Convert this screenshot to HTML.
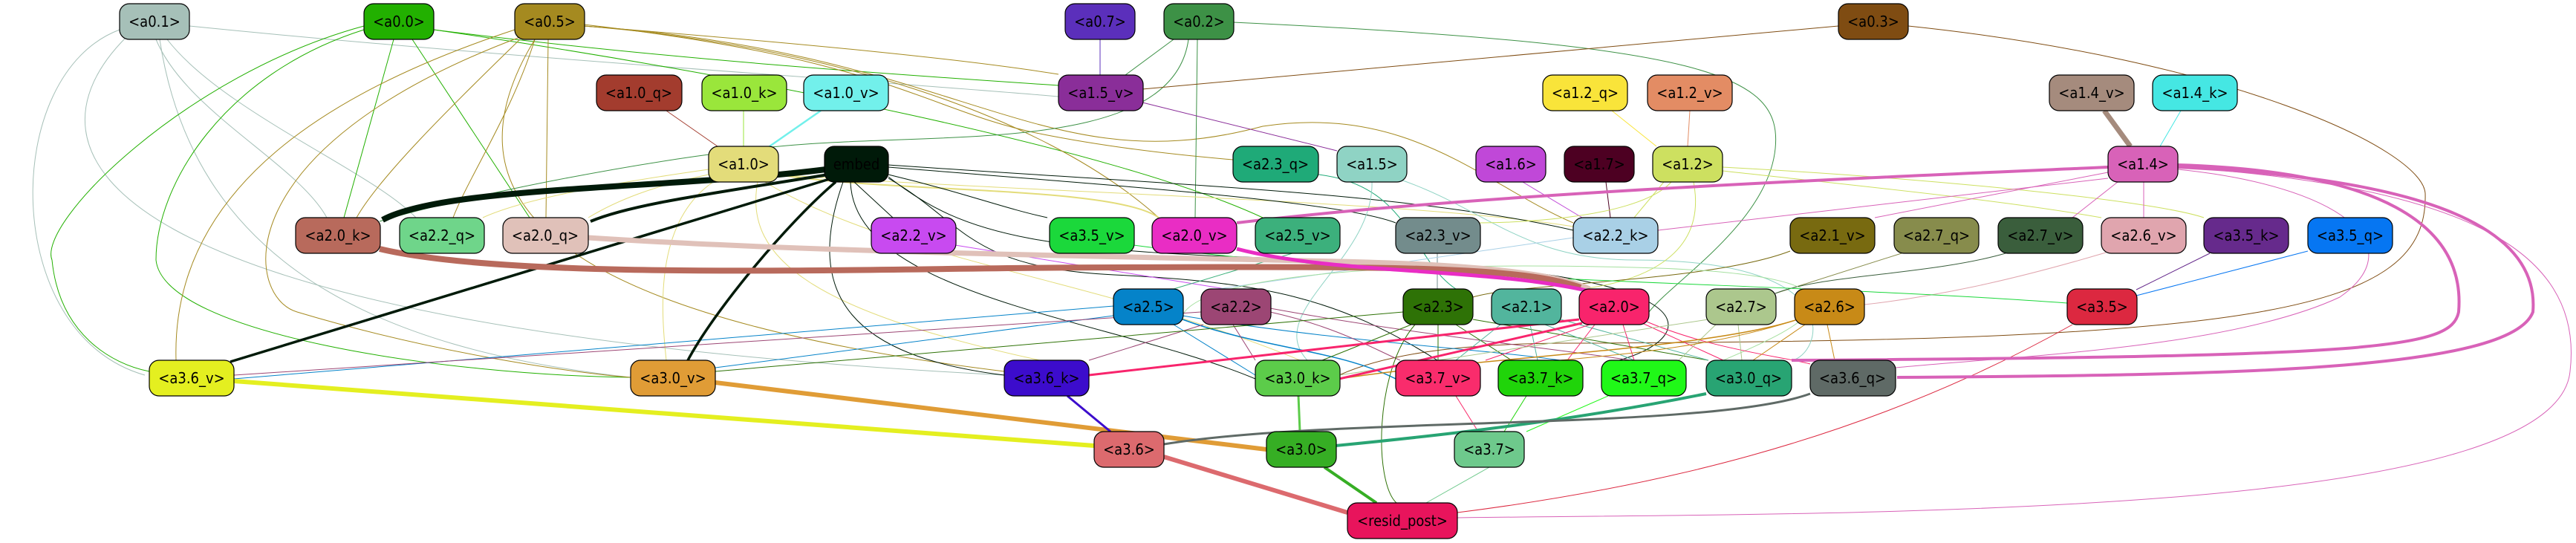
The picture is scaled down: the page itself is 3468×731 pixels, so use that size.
<!DOCTYPE html>
<html><head><meta charset="utf-8"><style>
html,body{margin:0;padding:0;background:#fff;}
svg{display:block;}
text{font-family:"DejaVu Sans Condensed","DejaVu Sans","Liberation Sans",sans-serif;font-stretch:condensed;font-size:20px;text-anchor:middle;dominant-baseline:central;fill:#000;}
.n{stroke:#000;stroke-width:1.2;}
path{fill:none;}
</style></head><body>
<svg width="3468" height="731" viewBox="0 0 3468 731" xmlns="http://www.w3.org/2000/svg">
<defs>
<marker id="mk" viewBox="0 0 10 10" refX="9" refY="5" markerUnits="userSpaceOnUse" markerWidth="22" markerHeight="22" orient="auto"><path d="M0,0 L10,5 L0,10 z" fill="#001a09"/></marker>
<marker id="mb" viewBox="0 0 10 10" refX="9" refY="5" markerUnits="userSpaceOnUse" markerWidth="28" markerHeight="28" orient="auto"><path d="M0,0 L10,5 L0,10 z" fill="#b86a5c"/></marker>
<marker id="mp" viewBox="0 0 10 10" refX="9" refY="5" markerUnits="userSpaceOnUse" markerWidth="20" markerHeight="20" orient="auto"><path d="M0,0 L10,5 L0,10 z" fill="#d862b8"/></marker>
<marker id="my" viewBox="0 0 10 10" refX="9" refY="5" markerUnits="userSpaceOnUse" markerWidth="26" markerHeight="26" orient="auto"><path d="M0,0 L10,5 L0,10 z" fill="#e4ef20"/></marker>
<marker id="mo" viewBox="0 0 10 10" refX="9" refY="5" markerUnits="userSpaceOnUse" markerWidth="26" markerHeight="26" orient="auto"><path d="M0,0 L10,5 L0,10 z" fill="#e09c36"/></marker>
<marker id="mr" viewBox="0 0 10 10" refX="9" refY="5" markerUnits="userSpaceOnUse" markerWidth="24" markerHeight="24" orient="auto"><path d="M0,0 L10,5 L0,10 z" fill="#dc6a6e"/></marker>
<marker id="mg" viewBox="0 0 10 10" refX="9" refY="5" markerUnits="userSpaceOnUse" markerWidth="20" markerHeight="20" orient="auto"><path d="M0,0 L10,5 L0,10 z" fill="#36ae24"/></marker>
<marker id="mt" viewBox="0 0 10 10" refX="9" refY="5" markerUnits="userSpaceOnUse" markerWidth="20" markerHeight="20" orient="auto"><path d="M0,0 L10,5 L0,10 z" fill="#28a473"/></marker>
<marker id="mf" viewBox="0 0 10 10" refX="9" refY="5" markerUnits="userSpaceOnUse" markerWidth="18" markerHeight="18" orient="auto"><path d="M0,0 L10,5 L0,10 z" fill="#f8246c"/></marker>
<marker id="mw" viewBox="0 0 10 10" refX="9" refY="5" markerUnits="userSpaceOnUse" markerWidth="26" markerHeight="26" orient="auto"><path d="M0,0 L10,5 L0,10 z" fill="#a58b7d"/></marker>
</defs>
<g stroke-width="1">
<path d="M210,53 C250,150 400,220 440,293" stroke="#a6c0b8"/>
<path d="M225,53 C300,150 500,230 560,293" stroke="#a6c0b8"/>
<path d="M161,40 C0,100 0,450 195,505" stroke="#a6c0b8"/>
<path d="M170,50 C20,200 100,440 1352,505" stroke="#a6c0b8"/>
<path d="M215,53 C260,350 500,470 849,508" stroke="#a6c0b8"/>
<path d="M255,35 C700,80 1200,110 1425,130" stroke="#a6c0b8"/>
<path d="M530,53 L463,293" stroke="#22b000"/>
<path d="M555,53 L713,293" stroke="#22b000"/>
<path d="M584,40 C900,80 1200,100 1425,115" stroke="#22b000"/>
<path d="M490,35 C250,100 50,300 70,350 C80,450 150,490 201,500" stroke="#22b000"/>
<path d="M490,40 C300,100 210,250 210,350 C220,450 600,505 849,508" stroke="#22b000"/>
<path d="M584,40 C1000,100 1500,200 1700,293" stroke="#22b000"/>
<path d="M700,53 C600,150 510,240 480,293" stroke="#a58a20"/>
<path d="M720,53 C690,150 630,240 610,293" stroke="#a58a20"/>
<path d="M738,53 L735,293" stroke="#a58a20"/>
<path d="M693,40 C450,120 230,250 237,485" stroke="#a58a20"/>
<path d="M700,50 C300,200 330,400 400,420 C600,480 800,505 849,508" stroke="#a58a20"/>
<path d="M786,35 C1100,60 1300,80 1425,100" stroke="#a58a20"/>
<path d="M786,33 C1200,80 1250,150 1400,180 C1500,200 1600,210 1660,215" stroke="#a58a20"/>
<path d="M786,35 C1100,60 1400,150 1560,293" stroke="#a58a20"/>
<path d="M786,35 C1300,70 1400,250 1700,170 C1900,140 2000,250 2118,300" stroke="#a58a20"/>
<path d="M720,53 C600,250 700,420 1352,500" stroke="#a58a20"/>
<path d="M1481,53 L1481,101" stroke="#5b2fbb"/>
<path d="M1580,53 L1515,101" stroke="#3d9146"/>
<path d="M1612,53 L1609,293" stroke="#3d9146"/>
<path d="M1600,53 C1580,200 1300,180 1100,193 C900,205 600,270 511,298" stroke="#3d9146"/>
<path d="M1660,30 C2300,60 2400,100 2390,200 C2380,300 2250,380 2220,420" stroke="#3d9146"/>
<path d="M2475,35 L1538,120" stroke="#7f4c12"/>
<path d="M2569,35 C3000,80 3260,200 3265,260 C3270,420 3050,460 2100,462 C2000,463 1880,470 1803,505" stroke="#7f4c12"/>
<path d="M897,149 L966,197" stroke="#a33c2e"/>
<path d="M1001,149 L1001,197" stroke="#9ae63b"/>
<path d="M1105,149 L1036,197" stroke="#72f0eb" stroke-width="2.5"/>
<path d="M954,228 C800,250 700,270 650,293" stroke="#e3dc7a"/>
<path d="M954,235 C880,250 830,270 792,293" stroke="#e3dc7a"/>
<path d="M960,245 C880,300 890,420 897,485" stroke="#e3dc7a"/>
<path d="M1020,245 C1000,350 1100,420 1400,485" stroke="#e3dc7a"/>
<path d="M1047,235 C1200,260 1500,250 1560,293" stroke="#e3dc7a" stroke-width="2"/>
<path d="M1047,235 C1400,260 1900,270 2118,305" stroke="#e3dc7a"/>
<path d="M1030,245 C1200,350 1500,380 1750,485" stroke="#e3dc7a"/>
<path d="M1150,245 L1202,293" stroke="#001a09"/>
<path d="M1196,235 C1300,260 1350,280 1410,293" stroke="#001a09"/>
<path d="M1196,225 C1500,250 1800,270 1879,300" stroke="#001a09"/>
<path d="M1196,222 C1600,250 1900,260 2118,310" stroke="#001a09"/>
<path d="M1135,245 C1080,400 1150,480 1352,505" stroke="#001a09"/>
<path d="M1145,245 C1150,400 1500,430 1690,510" stroke="#001a09"/>
<path d="M1196,240 C1300,300 1300,360 1500,370 C1700,380 1800,400 1935,485" stroke="#001a09"/>
<path d="M1196,238 C1300,320 1400,340 1800,350 C2300,360 2300,450 2180,485" stroke="#001a09"/>
<path d="M1538,138 L1800,203" stroke="#8a2e99"/>
<path d="M1775,235 C1900,250 1900,350 1960,389" stroke="#1faa78"/>
<path d="M1847,245 C1850,350 1700,420 1760,485" stroke="#8fd3c4"/>
<path d="M1880,240 C2000,280 2050,350 2200,350 C2500,350 2450,480 2412,485" stroke="#8fd3c4"/>
<path d="M2170,149 L2230,197" stroke="#f9e43a"/>
<path d="M2275,149 L2272,197" stroke="#e38c64"/>
<path d="M2050,245 L2130,293" stroke="#c048d8"/>
<path d="M2162,245 L2168,293" stroke="#4d0022"/>
<path d="M2240,245 L2200,293" stroke="#cde060"/>
<path d="M2319,225 C2600,240 2900,270 2967,293" stroke="#cde060"/>
<path d="M2319,230 C2500,250 2700,270 2829,293" stroke="#cde060"/>
<path d="M2250,245 C2200,300 2000,300 1992,300" stroke="#cde060"/>
<path d="M2280,245 C2300,350 2200,380 2130,389" stroke="#cde060"/>
<path d="M2936,149 L2908,197" stroke="#45e7e3"/>
<path d="M2838,240 L2232,310" stroke="#d862b8"/>
<path d="M2838,232 L2524,293" stroke="#d862b8"/>
<path d="M2851,245 L2790,293" stroke="#d862b8"/>
<path d="M2886,245 L2886,293" stroke="#d862b8"/>
<path d="M2932,225 C3300,250 3480,330 3460,500 C3440,700 2500,690 1962,697" stroke="#d862b8"/>
<path d="M2932,228 C3150,250 3250,330 3150,400 C3000,470 2700,480 2552,495" stroke="#d862b8"/>
<path d="M2410,338 C2300,380 2050,380 1983,400" stroke="#786a10"/>
<path d="M2560,341 L2390,395" stroke="#878c4c"/>
<path d="M2700,341 C2600,370 2450,370 2390,395" stroke="#3a5e3c"/>
<path d="M2835,340 C2700,380 2600,400 2510,410" stroke="#e0a5ae"/>
<path d="M2975,341 L2876,390" stroke="#662a8c"/>
<path d="M3107,338 L2876,398" stroke="#0676f2"/>
<path d="M1526,330 C1900,380 2400,380 2783,408" stroke="#1bd83b"/>
<path d="M2790,437 C2500,600 2200,660 1962,690" stroke="#dc2840"/>
<path d="M1935,341 L1935,389" stroke="#738c8c"/>
<path d="M1286,330 L1650,389" stroke="#c84af0"/>
<path d="M1740,341 L1580,389" stroke="#3cb07c"/>
<path d="M2118,320 L1640,389" stroke="#a9d0e6"/>
<path d="M1590,430 C1600,380 1800,350 2200,360 C2600,370 2400,450 2320,485" stroke="#a6e0a0"/>
<path d="M1499,412 L315,510" stroke="#0583c9"/>
<path d="M1499,425 L963,495" stroke="#0583c9"/>
<path d="M1580,437 L1690,505" stroke="#0583c9"/>
<path d="M1592,430 C1700,470 1800,470 1879,510" stroke="#0583c9" stroke-width="1.5"/>
<path d="M1592,425 C1800,460 2000,470 2100,485" stroke="#0583c9"/>
<path d="M1617,420 L315,505" stroke="#9c4674"/>
<path d="M1620,437 L1466,485" stroke="#9c4674"/>
<path d="M1660,437 L1690,485" stroke="#9c4674"/>
<path d="M1710,420 C1800,440 1850,470 1885,485" stroke="#9c4674"/>
<path d="M1710,415 C1900,450 2100,470 2195,485" stroke="#9c4674"/>
<path d="M1889,420 L963,500" stroke="#2e7206"/>
<path d="M1900,437 L1780,485" stroke="#2e7206"/>
<path d="M1936,437 L1936,485" stroke="#2e7206"/>
<path d="M1960,437 L2035,485" stroke="#2e7206"/>
<path d="M1983,430 L2300,485" stroke="#2e7206"/>
<path d="M1905,437 C1850,500 1850,650 1880,677" stroke="#2e7206"/>
<path d="M2020,437 L1960,485" stroke="#52b59d"/>
<path d="M2060,437 L2070,485" stroke="#52b59d"/>
<path d="M2080,437 L2200,485" stroke="#52b59d"/>
<path d="M2101,430 L2300,485" stroke="#52b59d"/>
<path d="M2147,437 L2110,485" stroke="#f8246c"/>
<path d="M2185,437 L2200,485" stroke="#f8246c"/>
<path d="M2200,430 L2320,485" stroke="#f8246c"/>
<path d="M2140,437 L2000,485" stroke="#f8246c"/>
<path d="M2210,430 C2300,470 2400,480 2437,490" stroke="#f8246c"/>
<path d="M2300,430 L1803,505" stroke="#acc78d"/>
<path d="M2340,437 L2345,485" stroke="#acc78d"/>
<path d="M2310,437 L2260,485" stroke="#acc78d"/>
<path d="M2420,430 C2300,470 2000,480 1803,510" stroke="#c88a17" stroke-width="1.5"/>
<path d="M2420,430 C2300,470 2150,480 2100,485" stroke="#c88a17"/>
<path d="M2430,437 L2360,485" stroke="#c88a17"/>
<path d="M2460,437 L2470,485" stroke="#c88a17"/>
<path d="M1960,533 L1990,581" stroke="#f92c6c"/>
<path d="M2055,533 L2025,581" stroke="#20d40a"/>
<path d="M2165,533 L2055,581" stroke="#20f818"/>
<path d="M2005,629 L1920,677" stroke="#6ec98c"/>
</g>
<path d="M1112,228 C900,255 600,250 515,296" stroke="#001a09" stroke-width="8" marker-end="url(#mk)"/>
<path d="M1115,235 C950,262 850,275 795,298" stroke="#001a09" stroke-width="4" marker-end="url(#mk)"/>
<path d="M1120,240 L310,487" stroke="#001a09" stroke-width="3.5" marker-end="url(#mk)"/>
<path d="M1125,245 C1060,300 960,420 925,487" stroke="#001a09" stroke-width="3.5" marker-end="url(#mk)"/>
<path d="M792,320 C1100,340 1500,345 1800,352 C2000,356 2100,370 2140,389" stroke="#e0c1b9" stroke-width="7"/>
<path d="M511,335 C700,380 1200,360 1500,360 C1900,358 2050,360 2128,387" stroke="#b86a5c" stroke-width="8" marker-end="url(#mb)"/>
<path d="M1665,335 C1800,370 2000,360 2140,392" stroke="#e92dc4" stroke-width="5"/>
<path d="M2838,225 C2500,240 2000,260 1665,300" stroke="#d862b8" stroke-width="4" marker-end="url(#mp)"/>
<path d="M2932,222 C3200,230 3320,300 3310,420 C3300,470 3200,480 2412,485" stroke="#d862b8" stroke-width="4" marker-end="url(#mp)"/>
<path d="M2932,225 C3250,240 3420,300 3410,420 C3380,500 3000,505 2554,508" stroke="#d862b8" stroke-width="4" marker-end="url(#mp)"/>
<path d="M2833,149 L2868,197" stroke="#a58b7d" stroke-width="7" marker-end="url(#mw)"/>
<path d="M315,513 L1473,600" stroke="#e4ef20" stroke-width="6" marker-end="url(#my)"/>
<path d="M963,515 L1705,605" stroke="#e09c36" stroke-width="6" marker-end="url(#mo)"/>
<path d="M1437,533 L1495,581" stroke="#3c0ccc" stroke-width="3"/>
<path d="M1748,533 L1750,581" stroke="#5ccc4a" stroke-width="3"/>
<path d="M2297,530 C2100,570 1900,590 1798,600" stroke="#28a473" stroke-width="4" marker-end="url(#mt)"/>
<path d="M2437,530 C2300,580 1800,560 1567,598" stroke="#5f6a66" stroke-width="3"/>
<path d="M1567,615 L1814,690" stroke="#dc6a6e" stroke-width="6" marker-end="url(#mr)"/>
<path d="M1783,629 L1853,677" stroke="#36ae24" stroke-width="4" marker-end="url(#mg)"/>
<path d="M2126,430 L1466,505" stroke="#f8246c" stroke-width="3" marker-end="url(#mf)"/>
<path d="M2130,435 L1803,510" stroke="#f8246c" stroke-width="3" marker-end="url(#mf)"/>
<g class="n">
<rect x="161" y="5" width="94" height="48" rx="13" fill="#a6c0b8"/>
<rect x="490" y="5" width="94" height="48" rx="13" fill="#22b000"/>
<rect x="693" y="5" width="94" height="48" rx="13" fill="#a58a20"/>
<rect x="1434" y="5" width="94" height="48" rx="13" fill="#5b2fbb"/>
<rect x="1567" y="5" width="94" height="48" rx="13" fill="#3d9146"/>
<rect x="2475" y="5" width="94" height="48" rx="13" fill="#7f4c12"/>
<rect x="803" y="101" width="115" height="48" rx="13" fill="#a33c2e"/>
<rect x="945" y="101" width="114" height="48" rx="13" fill="#9ae63b"/>
<rect x="1082" y="101" width="114" height="48" rx="13" fill="#72f0eb"/>
<rect x="1425" y="101" width="114" height="48" rx="13" fill="#8a2e99"/>
<rect x="2077" y="101" width="114" height="48" rx="13" fill="#f9e43a"/>
<rect x="2218" y="101" width="114" height="48" rx="13" fill="#e38c64"/>
<rect x="2759" y="101" width="114" height="48" rx="13" fill="#a58b7d"/>
<rect x="2898" y="101" width="114" height="48" rx="13" fill="#45e7e3"/>
<rect x="954" y="197" width="94" height="48" rx="13" fill="#e3dc7a"/>
<rect x="1110" y="197" width="86" height="48" rx="13" fill="#001a09"/>
<rect x="1660" y="197" width="115" height="48" rx="13" fill="#1faa78"/>
<rect x="1800" y="197" width="94" height="48" rx="13" fill="#8fd3c4"/>
<rect x="1987" y="197" width="94" height="48" rx="13" fill="#c048d8"/>
<rect x="2106" y="197" width="94" height="48" rx="13" fill="#4d0022"/>
<rect x="2225" y="197" width="94" height="48" rx="13" fill="#cde060"/>
<rect x="2838" y="197" width="94" height="48" rx="13" fill="#d862b8"/>
<rect x="398" y="293" width="114" height="48" rx="13" fill="#b86a5c"/>
<rect x="538" y="293" width="114" height="48" rx="13" fill="#6fd58a"/>
<rect x="677" y="293" width="115" height="48" rx="13" fill="#e0c1b9"/>
<rect x="1173" y="293" width="114" height="48" rx="13" fill="#c84af0"/>
<rect x="1413" y="293" width="114" height="48" rx="13" fill="#1bd83b"/>
<rect x="1551" y="293" width="114" height="48" rx="13" fill="#e92dc4"/>
<rect x="1690" y="293" width="114" height="48" rx="13" fill="#3cb07c"/>
<rect x="1879" y="293" width="114" height="48" rx="13" fill="#738c8c"/>
<rect x="2118" y="293" width="114" height="48" rx="13" fill="#a9d0e6"/>
<rect x="2410" y="293" width="114" height="48" rx="13" fill="#786a10"/>
<rect x="2550" y="293" width="114" height="48" rx="13" fill="#878c4c"/>
<rect x="2690" y="293" width="114" height="48" rx="13" fill="#3a5e3c"/>
<rect x="2829" y="293" width="114" height="48" rx="13" fill="#e0a5ae"/>
<rect x="2967" y="293" width="114" height="48" rx="13" fill="#662a8c"/>
<rect x="3107" y="293" width="114" height="48" rx="13" fill="#0676f2"/>
<rect x="1499" y="389" width="94" height="48" rx="13" fill="#0583c9"/>
<rect x="1617" y="389" width="94" height="48" rx="13" fill="#9c4674"/>
<rect x="1889" y="389" width="94" height="48" rx="13" fill="#2e7206"/>
<rect x="2008" y="389" width="94" height="48" rx="13" fill="#52b59d"/>
<rect x="2126" y="389" width="94" height="48" rx="13" fill="#f8246c"/>
<rect x="2297" y="389" width="94" height="48" rx="13" fill="#acc78d"/>
<rect x="2416" y="389" width="94" height="48" rx="13" fill="#c88a17"/>
<rect x="2783" y="389" width="94" height="48" rx="13" fill="#dc2840"/>
<rect x="201" y="485" width="114" height="48" rx="13" fill="#e4ef20"/>
<rect x="849" y="485" width="114" height="48" rx="13" fill="#e09c36"/>
<rect x="1352" y="485" width="114" height="48" rx="13" fill="#3c0ccc"/>
<rect x="1690" y="485" width="114" height="48" rx="13" fill="#5ccc4a"/>
<rect x="1879" y="485" width="114" height="48" rx="13" fill="#f92c6c"/>
<rect x="2017" y="485" width="114" height="48" rx="13" fill="#20d40a"/>
<rect x="2156" y="485" width="114" height="48" rx="13" fill="#20f818"/>
<rect x="2297" y="485" width="115" height="48" rx="13" fill="#28a473"/>
<rect x="2437" y="485" width="115" height="48" rx="13" fill="#5f6a66"/>
<rect x="1473" y="581" width="94" height="48" rx="13" fill="#dc6a6e"/>
<rect x="1705" y="581" width="94" height="48" rx="13" fill="#36ae24"/>
<rect x="1958" y="581" width="94" height="48" rx="13" fill="#6ec98c"/>
<rect x="1814" y="677" width="148" height="48" rx="13" fill="#e8145c"/>
</g>
<g>
<text x="208" y="29">&lt;a0.1&gt;</text>
<text x="537" y="29">&lt;a0.0&gt;</text>
<text x="740" y="29">&lt;a0.5&gt;</text>
<text x="1481" y="29">&lt;a0.7&gt;</text>
<text x="1614" y="29">&lt;a0.2&gt;</text>
<text x="2522" y="29">&lt;a0.3&gt;</text>
<text x="860" y="125">&lt;a1.0_q&gt;</text>
<text x="1002" y="125">&lt;a1.0_k&gt;</text>
<text x="1139" y="125">&lt;a1.0_v&gt;</text>
<text x="1482" y="125">&lt;a1.5_v&gt;</text>
<text x="2134" y="125">&lt;a1.2_q&gt;</text>
<text x="2275" y="125">&lt;a1.2_v&gt;</text>
<text x="2816" y="125">&lt;a1.4_v&gt;</text>
<text x="2955" y="125">&lt;a1.4_k&gt;</text>
<text x="1001" y="221">&lt;a1.0&gt;</text>
<text x="1153" y="221">embed</text>
<text x="1717" y="221">&lt;a2.3_q&gt;</text>
<text x="1847" y="221">&lt;a1.5&gt;</text>
<text x="2034" y="221">&lt;a1.6&gt;</text>
<text x="2153" y="221">&lt;a1.7&gt;</text>
<text x="2272" y="221">&lt;a1.2&gt;</text>
<text x="2885" y="221">&lt;a1.4&gt;</text>
<text x="455" y="317">&lt;a2.0_k&gt;</text>
<text x="595" y="317">&lt;a2.2_q&gt;</text>
<text x="734" y="317">&lt;a2.0_q&gt;</text>
<text x="1230" y="317">&lt;a2.2_v&gt;</text>
<text x="1470" y="317">&lt;a3.5_v&gt;</text>
<text x="1608" y="317">&lt;a2.0_v&gt;</text>
<text x="1747" y="317">&lt;a2.5_v&gt;</text>
<text x="1936" y="317">&lt;a2.3_v&gt;</text>
<text x="2175" y="317">&lt;a2.2_k&gt;</text>
<text x="2467" y="317">&lt;a2.1_v&gt;</text>
<text x="2607" y="317">&lt;a2.7_q&gt;</text>
<text x="2747" y="317">&lt;a2.7_v&gt;</text>
<text x="2886" y="317">&lt;a2.6_v&gt;</text>
<text x="3024" y="317">&lt;a3.5_k&gt;</text>
<text x="3164" y="317">&lt;a3.5_q&gt;</text>
<text x="1546" y="413">&lt;a2.5&gt;</text>
<text x="1664" y="413">&lt;a2.2&gt;</text>
<text x="1936" y="413">&lt;a2.3&gt;</text>
<text x="2055" y="413">&lt;a2.1&gt;</text>
<text x="2173" y="413">&lt;a2.0&gt;</text>
<text x="2344" y="413">&lt;a2.7&gt;</text>
<text x="2463" y="413">&lt;a2.6&gt;</text>
<text x="2830" y="413">&lt;a3.5&gt;</text>
<text x="258" y="509">&lt;a3.6_v&gt;</text>
<text x="906" y="509">&lt;a3.0_v&gt;</text>
<text x="1409" y="509">&lt;a3.6_k&gt;</text>
<text x="1747" y="509">&lt;a3.0_k&gt;</text>
<text x="1936" y="509">&lt;a3.7_v&gt;</text>
<text x="2074" y="509">&lt;a3.7_k&gt;</text>
<text x="2213" y="509">&lt;a3.7_q&gt;</text>
<text x="2354" y="509">&lt;a3.0_q&gt;</text>
<text x="2494" y="509">&lt;a3.6_q&gt;</text>
<text x="1520" y="605">&lt;a3.6&gt;</text>
<text x="1752" y="605">&lt;a3.0&gt;</text>
<text x="2005" y="605">&lt;a3.7&gt;</text>
<text x="1888" y="701">&lt;resid_post&gt;</text>
</g>
</svg>
</body></html>
